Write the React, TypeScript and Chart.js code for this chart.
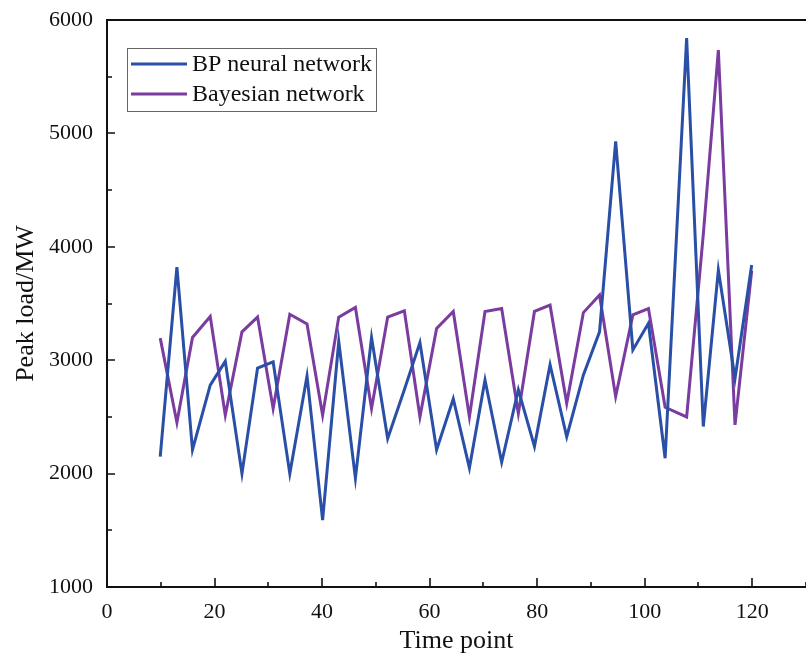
import React, { useEffect, useRef } from "react";
import { Chart, registerables } from "chart.js";

Chart.register(...registerables);

const timePoints = [
  9.9, 13.0, 15.9, 19.2, 22.0, 25.1, 28.0, 30.9, 34.0, 37.2,
  40.1, 43.1, 46.2, 49.2, 52.2, 55.3, 58.2, 61.3, 64.4, 67.4,
  70.3, 73.4, 76.5, 79.5, 82.4, 85.5, 88.6, 91.6, 94.6, 97.8,
  100.7, 103.8, 107.8, 110.9, 113.7, 116.8, 119.9,
];

const bpValues = [
  2150, 3820, 2210, 2780, 2990, 2000, 2930, 2985, 2000, 2860,
  1590, 3165, 1960, 3200, 2310, 2740, 3155, 2210, 2660, 2050,
  2825, 2100, 2740, 2240, 2960, 2325, 2870, 3250, 4930, 3090,
  3325, 2135, 5840, 2415, 3795, 2840, 3840,
];

const bayesValues = [
  3195, 2450, 3200, 3385, 2515, 3250, 3380, 2575, 3405, 3320,
  2515, 3380, 3465, 2575, 3380, 3435, 2500, 3280, 3430, 2500,
  3430, 3455, 2530, 3430, 3485, 2620, 3420, 3575, 2680, 3400,
  3455, 2585, 2500, 4110, 5735, 2430, 3790,
];

const seriesNames = ["BP neural network", "Bayesian network"];
const seriesColors = ["#2a4fa6", "#7a3c9e"];

const xMajorTicks = [0, 20, 40, 60, 80, 100, 120];
const xMinorTicks = [10, 30, 50, 70, 90, 110, 130];
const yMajorTicks = [1000, 2000, 3000, 4000, 5000, 6000];
const yMinorTicks = [1500, 2500, 3500, 4500, 5500];

const FONT = "'Liberation Serif', 'Times New Roman', serif";

const framePlugin = {
  id: "frame",
  afterDatasetsDraw(chart: any) {
    const { ctx, chartArea, scales } = chart;
    const { left, right, top, bottom } = chartArea;
    const xs = scales.x;
    const ys = scales.y;
    ctx.save();
    ctx.strokeStyle = "#111";
    ctx.lineWidth = 2;
    ctx.beginPath();
    ctx.moveTo(right + 2, top);
    ctx.lineTo(left, top);
    ctx.lineTo(left, bottom);
    ctx.lineTo(right + 2, bottom);
    ctx.stroke();

    ctx.lineWidth = 1.6;
    ctx.beginPath();
    xMajorTicks.forEach((v) => {
      const px = Math.round(xs.getPixelForValue(v));
      ctx.moveTo(px, bottom);
      ctx.lineTo(px, bottom - 9);
    });
    xMinorTicks.forEach((v) => {
      const px = Math.round(xs.getPixelForValue(v));
      ctx.moveTo(px, bottom);
      ctx.lineTo(px, bottom - 5);
    });
    yMajorTicks.forEach((v) => {
      const py = Math.round(ys.getPixelForValue(v));
      ctx.moveTo(left, py);
      ctx.lineTo(left + 8, py);
    });
    yMinorTicks.forEach((v) => {
      const py = Math.round(ys.getPixelForValue(v));
      ctx.moveTo(left, py);
      ctx.lineTo(left + 5, py);
    });
    ctx.stroke();

    // legend
    const bx = 127.5, by = 48.5, bw = 249, bh = 63;
    ctx.fillStyle = "#fff";
    ctx.fillRect(bx, by, bw, bh);
    ctx.strokeStyle = "#666";
    ctx.lineWidth = 1;
    ctx.strokeRect(bx, by, bw, bh);
    const rows = [64, 94];
    chart.data.datasets.forEach((ds: any, i: number) => {
      ctx.strokeStyle = ds.borderColor;
      ctx.lineWidth = 3;
      ctx.beginPath();
      ctx.moveTo(131, rows[i]);
      ctx.lineTo(187, rows[i]);
      ctx.stroke();
      ctx.fillStyle = "#111";
      ctx.font = `24px ${FONT}`;
      ctx.textBaseline = "middle";
      ctx.textAlign = "left";
      ctx.fillText(ds.label, 192, rows[i] + 1);
    });
    ctx.restore();
  },
};

export default function App() {
  const ref = useRef<HTMLCanvasElement>(null);
  useEffect(() => {
    if (!ref.current) return;
    const toPoints = (vals: number[]) =>
      vals.map((v, i) => ({ x: timePoints[i], y: v }));
    const chart = new Chart(ref.current, {
      type: "line",
      data: {
        datasets: [
          {
            label: seriesNames[0],
            data: toPoints(bpValues),
            borderColor: seriesColors[0],
            backgroundColor: seriesColors[0],
            borderWidth: 3,
            pointRadius: 0,
            tension: 0,
          },
          {
            label: seriesNames[1],
            data: toPoints(bayesValues),
            borderColor: seriesColors[1],
            backgroundColor: seriesColors[1],
            borderWidth: 3,
            pointRadius: 0,
            tension: 0,
          },
        ],
      },
      options: {
        animation: false,
        responsive: false,
        events: [],
        layout: { padding: { top: 20, right: 0, left: 0, bottom: 0 } },
        plugins: {
          legend: { display: false },
          tooltip: { enabled: false },
        },
        scales: {
          x: {
            type: "linear",
            min: 0,
            max: 130,
            grid: { display: false, drawTicks: false },
            border: { display: false },
            ticks: {
              stepSize: 20,
              includeBounds: false,
              padding: 12,
              color: "#111",
              font: { family: FONT, size: 22 },
              maxRotation: 0,
              callback: (v: any) => String(v),
            },
            title: {
              display: true,
              text: "Time point",
              color: "#111",
              font: { family: FONT, size: 26 },
              padding: { top: 0, bottom: 7 },
            },
            afterFit: (s: any) => {
              s.height = 77;
              s.paddingLeft = 0;
              s.paddingRight = 0;
            },
          },
          y: {
            type: "linear",
            min: 1000,
            max: 6000,
            grid: { display: false, drawTicks: false },
            border: { display: false },
            ticks: {
              stepSize: 1000,
              padding: 14,
              color: "#111",
              font: { family: FONT, size: 22 },
              callback: (v: any) => String(v),
            },
            title: {
              display: true,
              text: "Peak load/MW",
              color: "#111",
              font: { family: FONT, size: 26 },
              padding: { top: 11, bottom: 0 },
            },
            afterFit: (s: any) => {
              s.width = 107;
              s.paddingTop = 0;
              s.paddingBottom = 0;
            },
          },
        },
      },
      plugins: [framePlugin],
    });
    return () => chart.destroy();
  }, []);
  return (
    <div style={{ position: "absolute", left: 0, top: 0, width: 806, height: 664, background: "#fff" }}>
      <canvas ref={ref} width={806} height={664} style={{ width: 806, height: 664, display: "block" }} />
    </div>
  );
}
